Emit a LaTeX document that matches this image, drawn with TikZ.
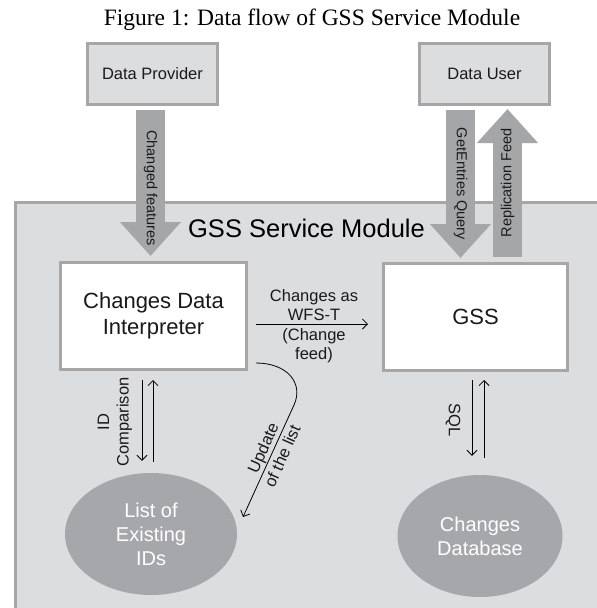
\documentclass[tikz,border=0pt]{standalone}
\usepackage{fontspec}
\setmainfont{Liberation Serif}
\setsansfont{Liberation Sans}
\usetikzlibrary{arrows.meta,shapes.geometric,calc}
\definecolor{modfill}{HTML}{DCDDDF}
\definecolor{bordergray}{HTML}{A6A6A6}
\definecolor{fatgray}{HTML}{A5A6A8}
\definecolor{ellgray}{HTML}{A6A7AA}
\definecolor{txt}{HTML}{1A1A1A}
\begin{document}
\begin{tikzpicture}[x=1pt,y=-1pt,
  every node/.style={font=\sffamily, text=txt},
  outbox/.style={rectangle, draw=bordergray, line width=3pt, fill=modfill, minimum width=130pt, minimum height=61pt, inner sep=0pt, font=\sffamily\fontsize{16.5}{19}\selectfont},
  inbox/.style={rectangle, draw=bordergray, line width=3pt, fill=white, minimum height=107pt, inner sep=0pt, align=center, font=\sffamily\fontsize{22}{26}\selectfont},
  store/.style={ellipse, fill=ellgray, inner sep=0pt, align=center, text=white, font=\sffamily\fontsize{20}{24}\selectfont},
  fat/.style={draw=fatgray, line width=29pt, -{Triangle[width=59pt,length=34pt]}},
  thin/.style={draw=black, line width=0.8pt, -{Straight Barb[length=5pt,width=10pt]}},
  fatlabel/.style={font=\sffamily\fontsize{14.5}{17}\selectfont, inner sep=0pt},
  lbl/.style={font=\sffamily\fontsize{16.5}{19.5}\selectfont, inner sep=0pt, align=center}
]
\useasboundingbox (0,0) rectangle (597,608);
\clip (0,0) rectangle (597,608);
\fill[white] (0,0) rectangle (597,608);

\node[font=\rmfamily\fontsize{23.5}{28}\selectfont, anchor=base, text=black, inner sep=0pt] (title) at (312,25) {Figure 1: Data flow of GSS Service Module};

\node[outbox] (dp) at (152.5,74) {Data Provider};
\node[outbox] (du) at (484.5,74) {Data User};

\node[rectangle, draw=bordergray, line width=2.5pt, fill=modfill, minimum width=700pt, minimum height=600pt, anchor=north west, inner sep=0pt] (mod) at (14.25,201.25) {};
\node[font=\sffamily\fontsize{25.5}{30}\selectfont, anchor=base, inner sep=0pt, text=black] (modtitle) at (306.5,237) {GSS Service Module};

\node[inbox, minimum width=186pt] (cdi) at (153.5,316) {Changes Data\\Interpreter};
\node[inbox, minimum width=184pt] (gss) at (475.5,317) {GSS};
\node[store, minimum width=172pt, minimum height=122pt] (lei) at (151,534) {List of\\Existing\\IDs};
\node[store, minimum width=165pt, minimum height=122pt] (cdb) at (480,536) {Changes\\Database};

% fat arrows
\draw[fat, shorten <=4pt, shorten >=5pt] (150.5,0 |- dp.south) -- (150.5,0 |- cdi.north);
\draw[fat, shorten <=4pt, shorten >=4pt] (460.5,0 |- du.south) -- (460.5,0 |- gss.north);
\draw[fat, shorten <=5pt, shorten >=3pt] (507.5,0 |- gss.north) -- (507.5,0 |- du.south);
\node[fatlabel, rotate=-90] (lcf) at (150.5,188) {Changed features};
\node[fatlabel, rotate=-90] (lgq) at (460.5,184) {GetEntries Query};
\node[fatlabel, rotate=90] (lrf) at (507.5,183) {Replication Feed};

% thin arrows
\draw[thin, shorten <=9pt, shorten >=12pt] (142,0 |- cdi.south) -- (142,0 |- lei.north);
\draw[thin, shorten <=11pt, shorten >=9pt] (153,0 |- lei.north) -- (153,0 |- cdi.south);
\draw[thin, shorten <=8pt, shorten >=19pt] (472,0 |- gss.south) -- (472,0 |- cdb.north);
\draw[thin, shorten <=17pt, shorten >=8pt] (484,0 |- cdb.north) -- (484,0 |- gss.south);
\draw[thin, shorten <=8pt, shorten >=14pt] (cdi.east |- 0,324) -- (gss.west |- 0,324);

\coordinate (updend) at (243,517);
\draw[thin, shorten <=8pt] (cdi.east |- 0,363) .. controls (287,363) and (304,383) .. (294,405) -- (updend);

\node[lbl, anchor=south] (lwa) at (314,321) {Changes as\\WFS-T};
\node[lbl, anchor=north] (lwb) at (314,328) {(Change\\feed)};
\node[lbl, rotate=90] (lid) at (115,422) {ID\\Comparison};
\node[lbl, rotate=-90] (lsql) at (453,420) {SQL};
\node[lbl, rotate=66, font=\sffamily\fontsize{16.5}{21}\selectfont] (lup) at (272.5,452) {Update\\of the list};
\end{tikzpicture}
\end{document}
